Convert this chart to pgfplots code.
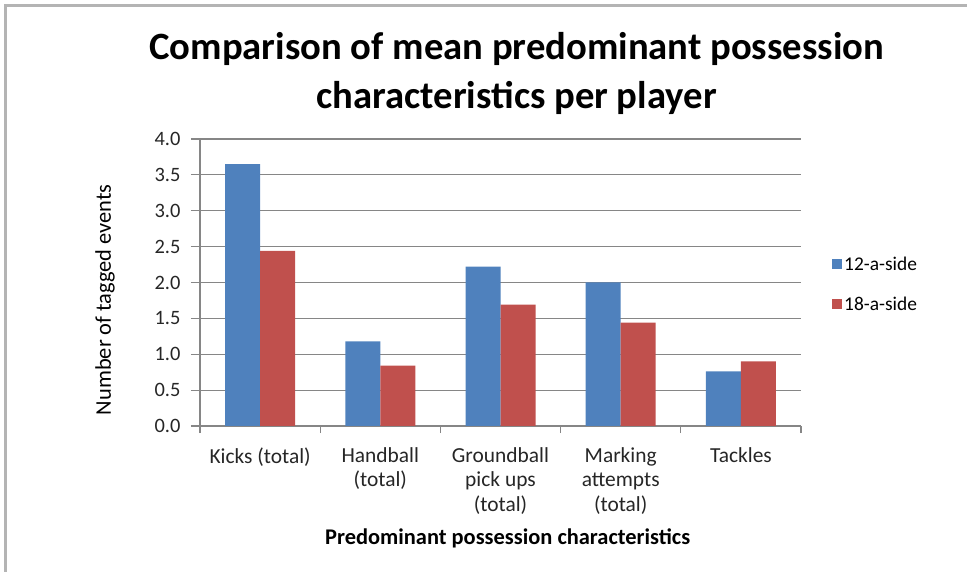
\documentclass[border=0pt]{standalone}
\usepackage{pgfplots}
\pgfplotsset{compat=1.18}
\usepackage{fontspec}
\setmainfont{Carlito}
\definecolor{barblue}{HTML}{4F81BD}
\definecolor{barred}{HTML}{C0504D}
\definecolor{gridgray}{HTML}{868686}
\definecolor{framegray}{HTML}{B4B4B4}
\newcommand{\lblfont}{\fontsize{19.5}{24}\selectfont}
\begin{document}
\begin{tikzpicture}
\path[use as bounding box] (0,0) rectangle (967bp,572bp);
% chart area frame
\draw[framegray, line width=2.5bp] (5.5bp,0) -- (5.5bp,566.5bp) -- (967bp,566.5bp);
\begin{axis}[
  at={(200bp,146bp)}, anchor=south west,
  scale only axis, width=601bp, height=287bp,
  ybar=0pt, bar width=35bp,
  xmin=-0.5, xmax=4.5, ymin=0, ymax=4,
  xtick={0,1,2,3,4},
  xticklabels={Kicks (total),{Handball\\(total)},{Groundball\\pick ups\\(total)},{Marking\\attempts\\(total)},Tackles},
  minor xtick={-0.5,0.5,1.5,2.5,3.5,4.5},
  ytick={0,0.5,...,4},
  axis x line*=bottom, axis y line*=left,
  axis line style={gridgray, line width=1.2bp},
  tick align=outside,
  major tick length=9bp, minor tick length=7bp,
  major x tick style={draw=none},
  minor x tick style={gridgray, line width=1.2bp},
  major y tick style={gridgray, line width=1.2bp},
  ymajorgrids, grid style={gridgray, line width=1.2bp},
  /pgf/number format/assume math mode=true,
  yticklabel style={font=\fontsize{20.5}{24}\selectfont, xshift=-7bp,
    /pgf/number format/.cd, fixed, fixed zerofill, precision=1},
  tick label style={text=black!85},
  xticklabel style={font=\fontsize{21.5}{24.5}\selectfont, align=center, yshift=-9bp},
  xlabel={Predominant possession characteristics},
  xlabel style={font=\bfseries\fontsize{22.5}{26}\selectfont, at={(axis description cs:0.512,-0.39)}, anchor=center},
  ylabel={Number of tagged events},
  ylabel style={font=\fontsize{22.5}{26}\selectfont, at={(axis description cs:-0.158,0.44)}, anchor=center},
  title={Comparison of mean predominant possession\\characteristics per player},
  title style={font=\bfseries\fontsize{38.8}{49}\selectfont, align=center, at={(axis description cs:0.527,1.208)}, anchor=center},
  legend style={at={(1,0.494)}, anchor=west, xshift=31bp, draw=none, fill=none, inner sep=0pt,
    font=\lblfont, row sep=21bp, legend cell align=left},
]
\addplot[fill=barblue, draw=none,
  legend image code/.code={\fill[barblue] (0bp,-5bp) rectangle (10bp,5bp);}]
  coordinates {(0,3.65) (1,1.18) (2,2.22) (3,2.00) (4,0.76)};
\addlegendentry{12-a-side}
\addplot[fill=barred, draw=none,
  legend image code/.code={\fill[barred] (0bp,-5bp) rectangle (10bp,5bp);}]
  coordinates {(0,2.44) (1,0.84) (2,1.69) (3,1.44) (4,0.90)};
\addlegendentry{18-a-side}
\end{axis}
\end{tikzpicture}
\end{document}
